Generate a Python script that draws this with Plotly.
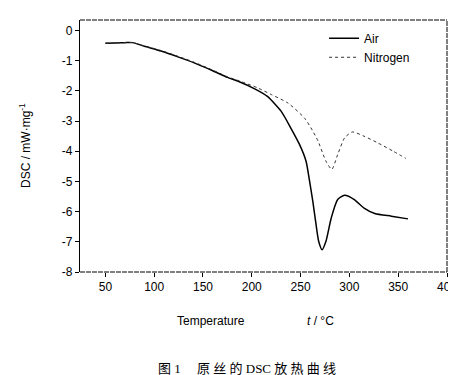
import plotly.graph_objects as go

# ---- data ----
air_t = [50, 60, 70, 78, 90, 107, 125, 141, 160, 175, 186, 203, 216, 230, 240, 249,
         255.6, 259, 262.5, 265.5, 268.5, 272, 276, 281.4, 288, 295, 305, 315, 326, 343, 360]
air_dsc = [-0.42, -0.41, -0.40, -0.40, -0.52, -0.68, -0.88, -1.07, -1.33, -1.55, -1.68,
           -1.93, -2.18, -2.67, -3.23, -3.78, -4.33, -4.95, -5.65, -6.35, -6.98,
           -7.26, -6.98, -6.21, -5.6, -5.46, -5.6, -5.88, -6.06, -6.15, -6.24]

n2_t = [50, 60, 70, 78, 90, 107, 125, 141, 160, 175, 190, 206, 220, 237, 254, 262, 268,
        276, 282, 288, 295, 303, 315, 329, 345, 358]
n2_dsc = [-0.42, -0.41, -0.40, -0.40, -0.51, -0.66, -0.86, -1.05, -1.31, -1.53, -1.70,
          -1.90, -2.12, -2.40, -2.90, -3.30, -3.67, -4.33, -4.60, -4.11, -3.56, -3.36,
          -3.50, -3.72, -4.00, -4.24]

x_ticks = [50, 100, 150, 200, 250, 300, 350, 400]
y_ticks = [0, -1, -2, -3, -4, -5, -6, -7, -8]
y_ticklabels = ["0", "-1", "-2", "-3", "-4", "-5", "-6", "-7", "-8"]

series_names = ["Air", "Nitrogen"]
y_title = "DSC / mW·mg<sup>-1</sup>"
x_title_left = "Temperature"
x_title_right = "<i>t</i> / °C"
caption = "图 1　 原 丝 的 DSC 放 热 曲 线"

SANS = "Liberation Sans, Arial, sans-serif"

fig = go.Figure()
fig.add_trace(go.Scatter(x=air_t, y=air_dsc, mode="lines", name=series_names[0],
                         line=dict(color="black", width=1.5, shape="spline", smoothing=0.6)))
fig.add_trace(go.Scatter(x=n2_t, y=n2_dsc, mode="lines", name=series_names[1],
                         line=dict(color="#333333", width=1, dash="dot", shape="spline", smoothing=0.6)))

fig.update_layout(
    width=456, height=375,
    margin=dict(l=72, r=17, t=12, b=111),
    paper_bgcolor="white", plot_bgcolor="white",
    font=dict(family=SANS, size=12, color="black"),
    showlegend=True,
    legend=dict(x=0.665, y=0.985, xanchor="left", yanchor="top",
                bgcolor="rgba(0,0,0,0)", font=dict(size=12, family=SANS),
                itemwidth=30, tracegroupgap=0),
    xaxis=dict(range=[24, 400], tickvals=x_ticks, showgrid=False, zeroline=False,
               showline=False, ticks="outside", ticklen=4, tickcolor="black",
               tickfont=dict(size=12, family=SANS), automargin=False),
    yaxis=dict(range=[-8, 0.35], tickvals=y_ticks, ticktext=y_ticklabels,
               showgrid=False, zeroline=False, showline=True, linecolor="black",
               linewidth=1.2, ticks="outside", ticklen=4, tickcolor="black",
               tickfont=dict(size=12, family=SANS), automargin=False),
)

# box frame (top/right/bottom drawn as dashed lines as in the scan)
for x0, y0, x1, y1 in [(0, 1, 1, 1), (1, 0, 1, 1), (0, 0, 1, 0)]:
    fig.add_shape(type="line", xref="paper", yref="paper", x0=x0, y0=y0, x1=x1, y1=y1,
                  line=dict(color="black", width=1, dash="5px,1px"))

fig.add_annotation(text=y_title, xref="paper", yref="paper", x=(17 - 72) / 367,
                   y=0.5, xanchor="center", yanchor="middle", textangle=-90,
                   showarrow=False, font=dict(size=12, family=SANS))
fig.add_annotation(text=x_title_left, xref="paper", yref="paper", x=(167 - 72) / 367,
                   y=-0.194, xanchor="left", yanchor="middle", showarrow=False,
                   font=dict(size=12, family=SANS))
fig.add_annotation(text=x_title_right, xref="paper", yref="paper", x=(297 - 72) / 367,
                   y=-0.194, xanchor="left", yanchor="middle", showarrow=False,
                   font=dict(size=12, family=SANS))
fig.add_annotation(text=caption, xref="paper", yref="paper", x=(148 - 72) / 367,
                   y=-0.381, xanchor="left", yanchor="middle", showarrow=False,
                   font=dict(size=13, family="Liberation Serif, Noto Sans CJK SC, serif"))

fig.write_html("out.html")
